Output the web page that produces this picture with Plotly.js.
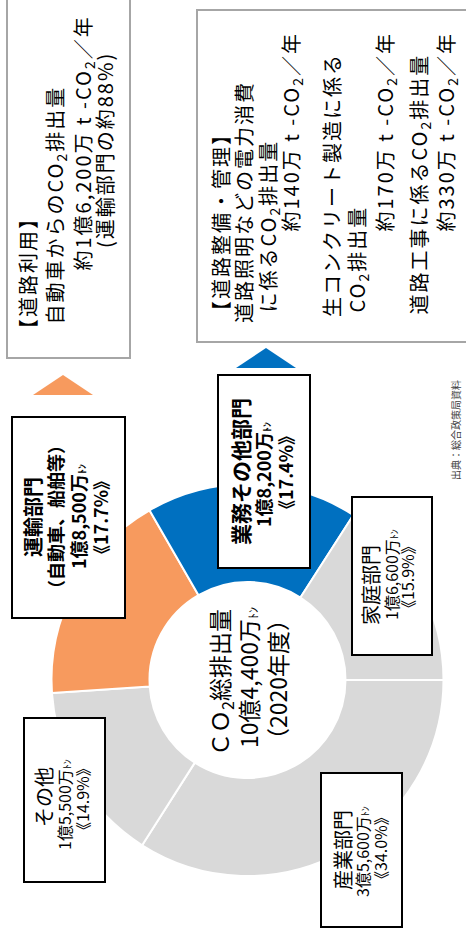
<!DOCTYPE html>
<html>
<head>
<meta charset="utf-8">
<script src="https://cdn.plot.ly/plotly-3.0.1.min.js"></script>
<style>
  html, body { margin: 0; padding: 0; background: #fff; }
  #chart { width: 466px; height: 930px; }
</style>
</head>
<body>
<div id="chart"></div>
<script>
// CO2 emissions by sector (2020), drawn as a donut; the whole figure is turned 90deg CCW.
const W = 466, H = 930;
const FONT = '"Noto Sans CJK JP", "Noto Sans", sans-serif';

// --- data ---
const sectors = ['産業部門', 'その他', '運輸部門', '業務その他部門', '家庭部門'];
const shares = [34.0, 14.9, 17.7, 17.4, 15.9];
const amounts = ['3億5,600万', '1億5,500万', '1億8,500万', '1億8,200万', '1億6,600万'];
const sliceColors = ['#D9D9D9', '#D9D9D9', '#F79A5E', '#0070C0', '#D9D9D9'];
const transportNote = '（自動車、船舶等）';
const totalLines = ['ＣＯ<sub>2</sub>総排出量', '10億4,400万', '（2020年度）'];

const roadUseLines = [
  '【道路利用】',
  '自動車からのCO<sub>2</sub>排出量',
  '約1億6,200万 t -CO<sub>2</sub>／年',
  '(運輸部門の約88%)',
];
const roadMgmtLines = [
  '【道路整備・管理】',
  '道路照明などの電力消費',
  'に係るCO<sub>2</sub>排出量',
  '約140万 t -CO<sub>2</sub>／年',
  '生コンクリート製造に係る',
  'CO<sub>2</sub>排出量',
  '約170万 t -CO<sub>2</sub>／年',
  '道路工事に係るCO<sub>2</sub>排出量',
  '約330万 t -CO<sub>2</sub>／年',
];
const source = '出典：総合政策局資料';

// --- layout helpers (pixel -> paper) ---
const px = x => x / W;
const py = y => 1 - y / H;
const ton = '<span style="font-size:10px">ﾄﾝ</span>';

function label(text, x, y, size, anchor, bold, ls) {
  // a subscript widens the rotated box on its right side; nudge back
  const dx = text.indexOf('<sub>') >= 0 ? 2 : 0;
  let t = ls ? `<span style="letter-spacing:${ls}px">${text}</span>` : text;
  if (bold) t = '<b>' + t + '</b>';
  return {
    text: t,
    x: px(x + dx), y: py(y), xref: 'paper', yref: 'paper',
    showarrow: false, textangle: -90,
    xanchor: 'center', yanchor: anchor || 'middle',
    font: { family: FONT, size: size, color: '#000' },
  };
}

function box(x0, y0, x1, y1, color) {
  return {
    type: 'rect', xref: 'paper', yref: 'paper',
    x0: px(x0), x1: px(x1), y0: py(y0), y1: py(y1),
    line: { color: color, width: 2 }, fillcolor: '#fff',
  };
}

function tri(xl, xr, yb, ya, color) {
  const xm = (xl + xr) / 2;
  return {
    type: 'path', xref: 'paper', yref: 'paper',
    path: `M ${px(xl)},${py(yb)} L ${px(xm)},${py(ya)} L ${px(xr)},${py(yb)} Z`,
    fillcolor: color, line: { width: 0 },
  };
}

// donut geometry
const cx = 247.5, cy = 680, r = 196;

const pie = {
  type: 'pie',
  values: shares,
  labels: sectors,
  sort: false,
  direction: 'clockwise',
  rotation: 90,
  hole: 0.5,
  marker: { colors: sliceColors, line: { color: '#fff', width: 2 } },
  textinfo: 'none',
  hoverinfo: 'skip',
  showlegend: false,
  domain: { x: [px(cx - r), px(cx + r)], y: [py(cy + r), py(cy - r)] },
};

const shapes = [
  box(7, -3, 130, 358, '#A6A6A6'),
  box(197, 10, 480, 342, '#A6A6A6'),
  box(12, 417, 125, 618, '#000'),     // 運輸
  box(218, 375, 310, 568, '#000'),    // 業務
  box(352, 497, 432, 655, '#000'),    // 家庭
  box(24, 718, 105, 882, '#000'),     // その他
  box(321, 773, 402, 927, '#000'),    // 産業
  tri(33, 93, 395, 375, sliceColors[2]),
  tri(236, 296, 368, 348, sliceColors[3]),
];

const pct = v => '《' + v.toFixed(1) + '%》';

const NOTE = 20, LS = 2;
const annotations = [
  // road use note
  label(roadUseLines[0], 27, 341, NOTE, 'bottom', false, LS),
  label(roadUseLines[1], 53, 327, NOTE, 'bottom', false, LS),
  label(roadUseLines[2], 81, 14, NOTE, 'top', false, LS),
  label(roadUseLines[3], 105, 250, NOTE, 'bottom', false, LS),
  // road management note
  label(roadMgmtLines[0], 220, 323, NOTE, 'bottom', false, LS),
  label(roadMgmtLines[1], 243, 325, NOTE, 'bottom', false, LS),
  label(roadMgmtLines[2], 266, 315, NOTE, 'bottom', false, LS),
  label(roadMgmtLines[3], 289, 31, NOTE, 'top', false, LS),
  label(roadMgmtLines[4], 331, 319, NOTE, 'bottom', false, LS),
  label(roadMgmtLines[5], 355, 315, NOTE, 'bottom', false, LS),
  label(roadMgmtLines[6], 383, 31, NOTE, 'top', false, LS),
  label(roadMgmtLines[7], 417, 317, NOTE, 'bottom', false, LS),
  label(roadMgmtLines[8], 444, 31, NOTE, 'top', false, LS),
  // total in the hole
  label(totalLines[0], 218, 683, 23),
  label(totalLines[1] + '<span style="font-size:12px">ﾄﾝ</span>', 248, 678, 23),
  label(totalLines[2], 277, 680, 23),
  // 運輸部門
  label(sectors[2], 32, 517, 20, 'middle', true),
  label(transportNote, 55, 517, 18, 'middle', true),
  label(amounts[2] + ton, 78, 517, 18, 'middle', true),
  label(pct(shares[2]), 100, 518, 18, 'middle', true),
  // 業務その他部門
  label(sectors[3], 240, 472, 21, 'middle', true),
  label(amounts[3] + ton, 263, 475, 18, 'middle', true),
  label(pct(shares[3]), 285, 473, 18, 'middle', true),
  // 家庭部門
  label(sectors[4], 370, 585, 20),
  label(amounts[4] + ton, 391, 575, 16),
  label(pct(shares[4]), 407, 577, 16),
  // その他
  label(sectors[1], 43, 797, 20),
  label(amounts[1] + ton, 64, 805, 16),
  label(pct(shares[1]), 82, 799, 16),
  // 産業部門
  label(sectors[0], 342, 850, 20),
  label(amounts[0] + ton, 362, 852, 16),
  label(pct(shares[0]), 380, 848, 16),
  // source
  Object.assign(label(source, 455, 430, 10), { font: { family: FONT, size: 10, color: '#404040' } }),
];

Plotly.newPlot('chart', [pie], {
  width: W, height: H,
  margin: { l: 0, r: 0, t: 0, b: 0 },
  paper_bgcolor: '#fff',
  showlegend: false,
  shapes: shapes,
  annotations: annotations,
}, { displayModeBar: false, staticPlot: true });
</script>
</body>
</html>
